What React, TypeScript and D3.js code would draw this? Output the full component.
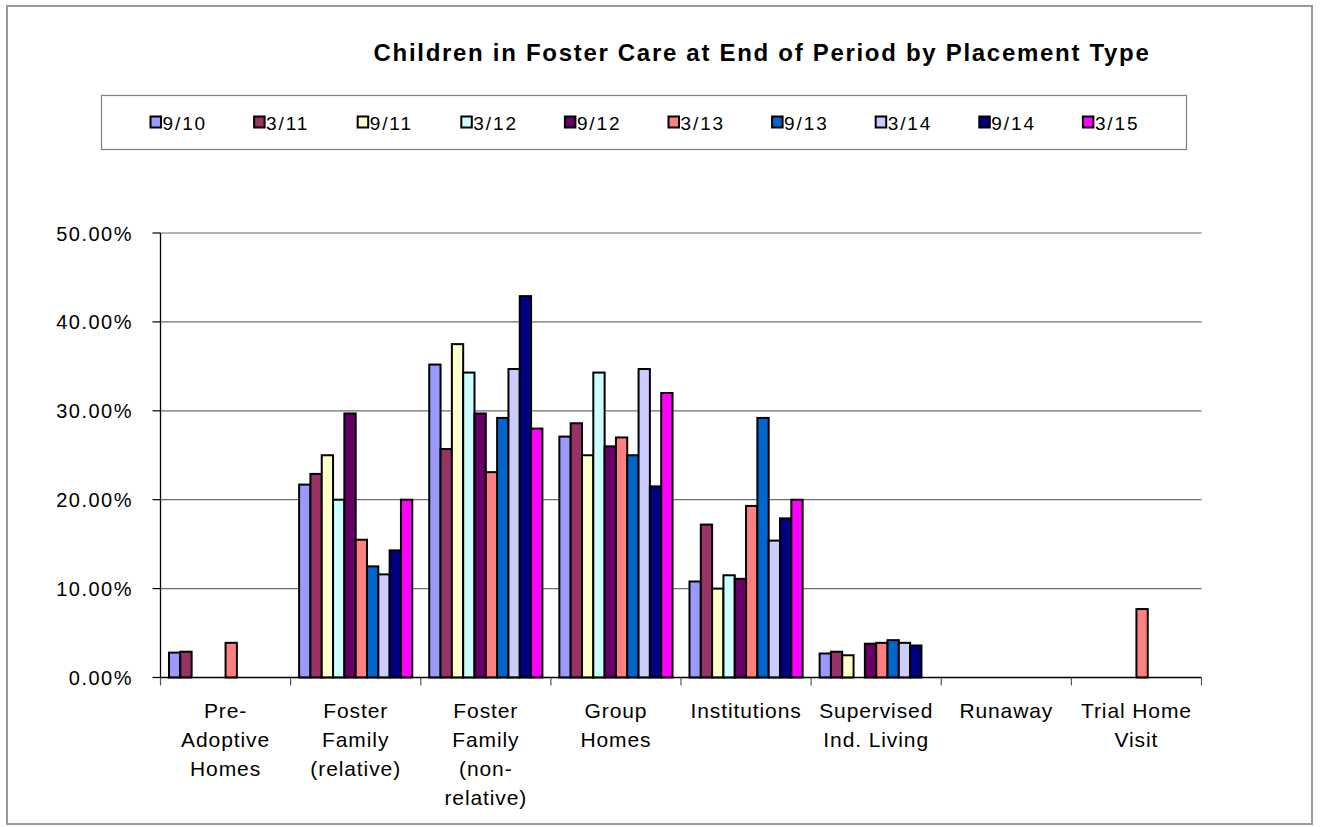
import React from "react";
import * as d3 from "d3";

// Placement categories, each split into its printed label lines
const categories: string[][] = [
  ["Pre-", "Adoptive", "Homes"],
  ["Foster", "Family", "(relative)"],
  ["Foster", "Family", "(non-", "relative)"],
  ["Group", "Homes"],
  ["Institutions"],
  ["Supervised", "Ind. Living"],
  ["Runaway"],
  ["Trial Home", "Visit"],
];

// Reporting periods (series) and their fills
const periods = ["9/10", "3/11", "9/11", "3/12", "9/12", "3/13", "9/13", "3/14", "9/14", "3/15"];
const periodColors = [
  "#9999FF", "#993366", "#FFFFCC", "#CCFFFF", "#660066",
  "#FF8080", "#0066CC", "#CCCCFF", "#000080", "#FF00FF",
];

// Share of children by placement type (percent), one array per period, in category order
const p0910 = [2.8, 21.7, 35.2, 27.1, 10.8, 2.7, 0, 0];
const p0311 = [2.9, 22.9, 25.7, 28.6, 17.2, 2.9, 0, 0];
const p0911 = [0, 25.0, 37.5, 25.0, 10.0, 2.5, 0, 0];
const p0312 = [0, 20.0, 34.3, 34.3, 11.5, 0, 0, 0];
const p0912 = [0, 29.7, 29.7, 26.0, 11.1, 3.8, 0, 0];
const p0313 = [3.9, 15.5, 23.1, 27.0, 19.3, 3.9, 0, 7.7];
const p0913 = [0, 12.5, 29.2, 25.0, 29.2, 4.2, 0, 0];
const p0314 = [0, 11.6, 34.7, 34.7, 15.4, 3.9, 0, 0];
const p0914 = [0, 14.3, 42.9, 21.5, 17.9, 3.6, 0, 0];
const p0315 = [0, 20.0, 28.0, 32.0, 20.0, 0, 0, 0];
const seriesValues = [p0910, p0311, p0911, p0312, p0912, p0313, p0913, p0314, p0914, p0315];

const yTicks = [0, 0.1, 0.2, 0.3, 0.4, 0.5];

const FONT = "'Liberation Sans', Arial, Helvetica, sans-serif";

export default function App() {
  const W = 1320;
  const H = 827;
  const plot = { left: 160.5, right: 1201.5, top: 233, bottom: 677.5 };

  const x = d3
    .scaleBand<number>()
    .domain(categories.map((_, i) => i))
    .range([plot.left, plot.right])
    .padding(0);
  const xs = d3
    .scaleBand<number>()
    .domain(periods.map((_, i) => i))
    .range([0, x.bandwidth()])
    .paddingInner(0)
    .paddingOuter(0.75);
  const y = d3.scaleLinear().domain([0, 0.5]).range([plot.bottom, plot.top]);
  const fmt = d3.format(".2%");

  const boundaries = d3.range(categories.length + 1).map((i) =>
    i < categories.length ? (x(i) as number) : plot.right
  );

  // Legend layout
  const legend = { x: 101.5, y: 95.5, w: 1085, h: 54 };
  const legendStep = 103.6;
  const legendStart = 150.5;

  return (
    <svg
      width={W}
      height={H}
      style={{ position: "absolute", left: 0, top: 0, background: "#fff" }}
      fontFamily={FONT}
    >
      <rect x={0} y={0} width={W} height={H} fill="#fff" />
      {/* chart frame */}
      <rect x={7} y={6} width={1305} height={818} fill="none" stroke="#9a9a9a" strokeWidth={2} />

      {/* title */}
      <text
        x={762}
        y={61}
        textAnchor="middle"
        fontSize={24}
        fontWeight="bold"
        letterSpacing={1.7}
        fill="#000"
      >
        Children in Foster Care at End of Period by Placement Type
      </text>

      {/* legend */}
      <rect
        x={legend.x}
        y={legend.y}
        width={legend.w}
        height={legend.h}
        fill="#fff"
        stroke="#7f7f7f"
        strokeWidth={1.2}
      />
      {periods.map((p, i) => {
        const lx = legendStart + i * legendStep;
        return (
          <g key={p}>
            <rect
              x={lx}
              y={116.5}
              width={10.5}
              height={11}
              fill={periodColors[i]}
              stroke="#000"
              strokeWidth={2}
            />
            <text x={lx + 12} y={129.5} fontSize={19} letterSpacing={1.9} fill="#000">
              {p}
            </text>
          </g>
        );
      })}

      {/* gridlines */}
      {yTicks.slice(1).map((t) => (
        <line
          key={t}
          x1={plot.left}
          x2={plot.right}
          y1={y(t)}
          y2={y(t)}
          stroke="#6e6e6e"
          strokeWidth={1.2}
        />
      ))}

      {/* y axis */}
      <line x1={plot.left} x2={plot.left} y1={plot.top} y2={plot.bottom} stroke="#000" strokeWidth={1.3} />
      {yTicks.map((t) => (
        <g key={t}>
          <line x1={plot.left - 8} x2={plot.left} y1={y(t)} y2={y(t)} stroke="#000" strokeWidth={1.2} />
          <text
            x={133}
            y={y(t) + 7.5}
            textAnchor="end"
            fontSize={20}
            letterSpacing={1.5}
            fill="#000"
          >
            {fmt(t)}
          </text>
        </g>
      ))}

      {/* bars */}
      {seriesValues.map((vals, si) =>
        vals.map((v, ci) =>
          v > 0 ? (
            <rect
              key={`${si}-${ci}`}
              x={(x(ci) as number) + (xs(si) as number)}
              y={y(v / 100)}
              width={xs.bandwidth()}
              height={plot.bottom - y(v / 100)}
              fill={periodColors[si]}
              stroke="#000"
              strokeWidth={2}
            />
          ) : null
        )
      )}

      {/* x axis */}
      <line x1={plot.left} x2={plot.right} y1={plot.bottom} y2={plot.bottom} stroke="#000" strokeWidth={1.5} />
      {boundaries.map((bx, i) => (
        <line key={i} x1={bx} x2={bx} y1={plot.bottom} y2={plot.bottom + 8} stroke="#555" strokeWidth={1.2} />
      ))}
      {categories.map((lines, ci) => (
        <text
          key={ci}
          x={(x(ci) as number) + x.bandwidth() / 2}
          y={718}
          textAnchor="middle"
          fontSize={21}
          letterSpacing={0.9}
          fill="#000"
        >
          {lines.map((ln, li) => (
            <tspan key={li} x={(x(ci) as number) + x.bandwidth() / 2} dy={li === 0 ? 0 : 29}>
              {ln}
            </tspan>
          ))}
        </text>
      ))}
    </svg>
  );
}
